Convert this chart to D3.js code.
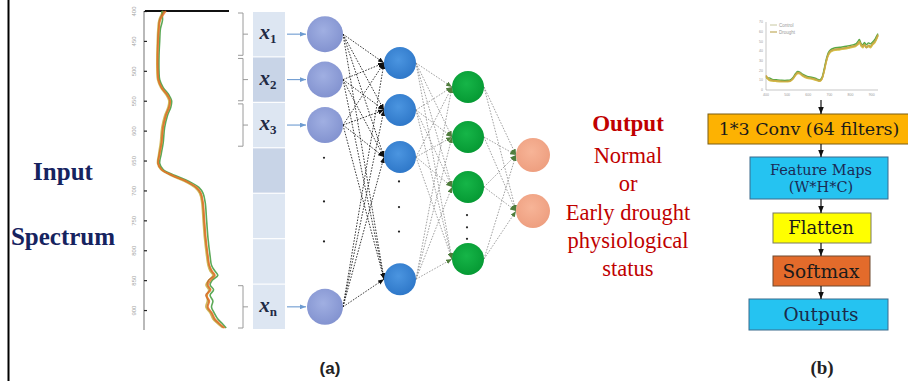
<!DOCTYPE html>
<html>
<head>
<meta charset="utf-8">
<script src="https://cdn.jsdelivr.net/npm/d3@7"></script>
<style>
  html, body { margin: 0; padding: 0; background: #fff; }
  svg { display: block; }
</style>
</head>
<body>
<svg id="fig" width="908" height="381"></svg>
<script>
// ---- Reflectance spectra: wavelength (nm) and reflectance (fraction) ----
const wavelengths = [400, 415, 430, 450, 475, 500, 515, 528, 540, 550, 560, 575, 595, 620, 640, 655, 665, 675, 685, 695,
                     705, 720, 750, 780, 810, 825, 835, 842, 850, 858, 866, 875, 885, 895, 905, 915, 922, 930];
const spectrumOrange = [0.15, 0.11, 0.10, 0.095, 0.09, 0.09, 0.095, 0.12, 0.16, 0.18, 0.175, 0.15, 0.13, 0.12, 0.105, 0.095, 0.12, 0.20, 0.30, 0.37,
                        0.40, 0.415, 0.425, 0.435, 0.45, 0.46, 0.48, 0.50, 0.47, 0.45, 0.47, 0.44, 0.46, 0.45, 0.48, 0.50, 0.53, 0.57];
const spectrumGreen  = [0.12, 0.125, 0.11, 0.105, 0.10, 0.10, 0.105, 0.13, 0.17, 0.19, 0.185, 0.16, 0.14, 0.13, 0.115, 0.105, 0.13, 0.215, 0.315, 0.385,
                        0.415, 0.43, 0.44, 0.45, 0.465, 0.475, 0.50, 0.52, 0.48, 0.465, 0.49, 0.465, 0.485, 0.475, 0.495, 0.52, 0.55, 0.58];
const spectrumOlive  = [0.13, 0.10, 0.092, 0.088, 0.085, 0.085, 0.09, 0.112, 0.15, 0.17, 0.165, 0.14, 0.12, 0.11, 0.097, 0.09, 0.112, 0.185, 0.285, 0.355,
                        0.39, 0.405, 0.415, 0.425, 0.44, 0.45, 0.465, 0.485, 0.455, 0.435, 0.455, 0.445, 0.445, 0.435, 0.465, 0.485, 0.515, 0.555];
const spectrumBrown  = [0.14, 0.105, 0.098, 0.092, 0.09, 0.092, 0.097, 0.118, 0.158, 0.178, 0.172, 0.148, 0.128, 0.118, 0.102, 0.094, 0.118, 0.195, 0.295, 0.365,
                        0.398, 0.412, 0.422, 0.432, 0.448, 0.458, 0.475, 0.495, 0.455, 0.445, 0.465, 0.435, 0.455, 0.445, 0.475, 0.495, 0.525, 0.565];
const wavelengthTicks = [400, 450, 500, 550, 600, 650, 700, 750, 800, 850, 900];
const miniTicksX = [400, 500, 600, 700, 800, 900];
const miniTicksY = [0, 0.1, 0.2, 0.3, 0.4, 0.5, 0.6, 0.7];
const legendLabels = ["Control", "Drought"];

// ---- Network ----
const layerNames = ["input", "hidden1", "hidden2", "output"];
const inputSubscripts = ["1", "2", "3", "n"];
const inputCellCount = 7;
const outputHeading = "Output";
const outputLines = ["Normal", "or", "Early drought", "physiological", "status"];
const sideLabels = ["Input", "Spectrum"];

// ---- CNN pipeline ----
const pipelineLabels = [["1*3 Conv (64 filters)"], ["Feature Maps", "(W*H*C)"], ["Flatten"], ["Softmax"], ["Outputs"]];
const panelLabels = ["(a)", "(b)"];

const svg = d3.select("#fig");
const defs = svg.append("defs");

function addMarker(id, color, w, h) {
  defs.append("marker")
    .attr("id", id).attr("viewBox", "0 0 10 8").attr("refX", 10).attr("refY", 4)
    .attr("markerWidth", w).attr("markerHeight", h)
    .attr("markerUnits", "userSpaceOnUse").attr("orient", "auto")
    .append("path").attr("d", "M0,0L10,4L0,8Z").attr("fill", color);
}
addMarker("arBlack", "#111", 6, 5);
addMarker("arGreen", "#4f7d3c", 6, 5);
addMarker("arBlue", "#6d9bd1", 6, 5);
addMarker("arFlow", "#111", 7, 6);

function radial(id, inner, outer) {
  const g = defs.append("radialGradient").attr("id", id).attr("cx", "45%").attr("cy", "40%").attr("r", "60%");
  g.append("stop").attr("offset", "0%").attr("stop-color", inner);
  g.append("stop").attr("offset", "100%").attr("stop-color", outer);
}
radial("gInput", "#a0afe2", "#8393d0");
radial("gH1", "#4b95e0", "#2f78c9");
radial("gH2", "#16b548", "#069a34");
radial("gOut", "#f7b497", "#ee9f80");

// Left frame line
svg.append("line").attr("x1", 8.5).attr("x2", 8.5).attr("y1", 0).attr("y2", 381)
  .attr("stroke", "#000").attr("stroke-width", 2);

// Side labels
svg.selectAll("text.side").data(sideLabels).join("text").attr("class", "side")
  .attr("x", 63).attr("y", (d, i) => [180, 245][i])
  .attr("text-anchor", "middle")
  .attr("font-family", "'Liberation Serif', serif").attr("font-weight", "bold")
  .attr("font-size", 25).attr("fill", "#16235f").text(d => d);

// ---- Rotated spectrum plot ----
const yWl = d3.scaleLinear().domain([400, 930]).range([11, 328]);
const xRef = d3.scaleLinear().domain([0, 0.6]).range([145, 229]);

const axisG = svg.append("g").attr("transform", "translate(144,0)")
  .call(d3.axisLeft(yWl).tickValues(wavelengthTicks).tickSizeInner(-3).tickSizeOuter(0).tickPadding(5));
axisG.select(".domain").attr("stroke", "#a8a8a8").attr("stroke-width", 1.6)
  .attr("d", `M0,${yWl(400)}V${yWl(930) + 2}`);
axisG.selectAll(".tick line").attr("stroke", "#222").attr("stroke-width", 1.2);
axisG.selectAll(".tick text")
  .attr("font-size", 6).attr("fill", "#a5a5a5").attr("font-family", "'Liberation Sans', sans-serif")
  .attr("text-anchor", "middle").attr("x", 0).attr("dy", 0)
  .attr("transform", "translate(-8,0) rotate(-90)");

svg.append("line").attr("x1", xRef(0)).attr("x2", xRef(0.6)).attr("y1", yWl(400)).attr("y2", yWl(400))
  .attr("stroke", "#111").attr("stroke-width", 2);

const spectra = [
  { values: spectrumOlive, color: "#c9ad3c" },
  { values: spectrumGreen, color: "#3f9a3a" },
  { values: spectrumBrown, color: "#b8682a" },
  { values: spectrumOrange, color: "#e6782a" }
];
const vLine = d3.line().x(d => xRef(d[1])).y(d => yWl(d[0])).curve(d3.curveCatmullRom);
svg.append("g").selectAll("path").data(spectra).join("path")
  .attr("d", s => vLine(wavelengths.map((w, i) => [w, s.values[i]])))
  .attr("fill", "none").attr("stroke", s => s.color).attr("stroke-width", 1.6).attr("opacity", 0.85);

// ---- Input cells ----
const cellBand = d3.scaleBand().domain(d3.range(inputCellCount)).range([12, 329]).paddingInner(0.025);
svg.append("g").selectAll("rect").data(d3.range(inputCellCount)).join("rect")
  .attr("x", 253).attr("width", 32)
  .attr("y", d => cellBand(d)).attr("height", cellBand.bandwidth())
  .attr("fill", d => (d === 1 || d === 3) ? "#c8d4e7" : "#dde6f2");

const inputSlots = [0, 1, 2, 6];
const slotCenter = s => cellBand(s) + cellBand.bandwidth() / 2;

// Brackets tying spectral segments to inputs
svg.append("g").selectAll("path").data(inputSlots).join("path")
  .attr("d", s => {
    const y0 = cellBand(s) + 1, y1 = cellBand(s) + cellBand.bandwidth() - 1, m = slotCenter(s);
    return `M238,${y0}H243V${y1}H238M243,${m}H248`;
  })
  .attr("fill", "none").attr("stroke", "#9a9a9a").attr("stroke-width", 1);

// x labels
const xl = svg.append("g").selectAll("text").data(inputSlots).join("text")
  .attr("x", 268).attr("y", s => slotCenter(s) + 5)
  .attr("text-anchor", "middle")
  .attr("font-family", "'Liberation Serif', serif").attr("fill", "#1f2a44");
xl.append("tspan").attr("font-style", "italic").attr("font-weight", "bold").attr("font-size", 21).text("x");
xl.append("tspan").attr("font-weight", "bold").attr("font-size", 13).attr("dy", 4)
  .text((s, i) => inputSubscripts[i]);

// ---- Network nodes ----
const layerX = d3.scaleOrdinal().domain(layerNames).range([325, 400, 468, 533]);
const layerR = d3.scaleOrdinal().domain(layerNames).range([18, 16, 16, 17]);
const h1Y = d3.scaleLinear().domain([0, 1]).range([63, 110]);
const h2Y = d3.scaleLinear().domain([0, 1]).range([87, 137]);
const outY = d3.scaleLinear().domain([0, 1]).range([155, 211]);

const layers = [
  { name: "input", ys: inputSlots.map(slotCenter), fill: "url(#gInput)" },
  { name: "hidden1", ys: [0, 1, 2, 4.6].map(h1Y), fill: "url(#gH1)" },
  { name: "hidden2", ys: [0, 1, 2, 3.44].map(h2Y), fill: "url(#gH2)" },
  { name: "output", ys: [0, 1].map(outY), fill: "url(#gOut)" }
];

// Input arrows
svg.append("g").selectAll("line").data(layers[0].ys).join("line")
  .attr("x1", 287).attr("x2", layerX("input") - layerR("input") - 1)
  .attr("y1", d => d).attr("y2", d => d)
  .attr("stroke", "#6d9bd1").attr("stroke-width", 1.1).attr("marker-end", "url(#arBlue)");

// Connections
const edgeStyles = [
  { stroke: "#222", width: 0.9, marker: "url(#arBlack)" },
  { stroke: "#8a8a8a", width: 0.8, marker: "url(#arGreen)" },
  { stroke: "#8a8a8a", width: 0.8, marker: "url(#arGreen)" }
];
const edgeG = svg.append("g");
for (let l = 0; l < layers.length - 1; l++) {
  const a = layers[l], b = layers[l + 1], st = edgeStyles[l];
  const edges = [];
  a.ys.forEach(ya => b.ys.forEach(yb => edges.push([ya, yb])));
  edgeG.append("g").selectAll("line").data(edges).join("line")
    .attr("x1", layerX(a.name) + layerR(a.name)).attr("y1", d => d[0])
    .attr("x2", layerX(b.name) - layerR(b.name)).attr("y2", d => d[1])
    .attr("stroke", st.stroke).attr("stroke-width", st.width)
    .attr("stroke-dasharray", "1.6,1.4").attr("marker-end", st.marker);
}

svg.append("g").selectAll("g").data(layers).join("g")
  .each(function (L) {
    d3.select(this).selectAll("circle").data(L.ys).join("circle")
      .attr("cx", layerX(L.name)).attr("cy", d => d).attr("r", layerR(L.name))
      .attr("fill", L.fill);
  });

// Ellipsis dots inside each layer
const dotFractions = [
  { name: "input", from: 2, to: 3, f: [0.18, 0.42, 0.64] },
  { name: "hidden1", from: 2, to: 3, f: [0.2, 0.41, 0.61] },
  { name: "hidden2", from: 2, to: 3, f: [0.39, 0.56, 0.72] }
];
dotFractions.forEach(D => {
  const L = layers.find(x => x.name === D.name);
  const y = d3.scaleLinear().domain([0, 1]).range([L.ys[D.from], L.ys[D.to]]);
  svg.append("g").selectAll("circle").data(D.f).join("circle")
    .attr("cx", layerX(D.name) - 1).attr("cy", d => y(d)).attr("r", 1.1).attr("fill", "#222");
});

// Output text
const outText = svg.append("g").attr("font-family", "'Liberation Serif', serif").attr("fill", "#c00000")
  .attr("text-anchor", "middle");
outText.append("text").attr("x", 628).attr("y", 131).attr("font-weight", "bold").attr("font-size", 23).text(outputHeading);
const outLineY = d3.scaleLinear().domain([0, outputLines.length - 1]).range([163, 276]);
outText.selectAll("text.ol").data(outputLines).join("text").attr("class", "ol")
  .attr("x", 628).attr("y", (d, i) => outLineY(i)).attr("font-size", 22.5).text(d => d);

// ---- Mini spectrum chart ----
const mx = d3.scaleLinear().domain([400, 930]).range([766, 878]);
const my = d3.scaleLinear().domain([0, 0.7]).range([90, 22]);
const mini = svg.append("g");
mini.append("path").attr("d", `M${mx(400)},${my(0.7)}V${my(0)}H${mx(930)}`)
  .attr("fill", "none").attr("stroke", "#b0b0b0").attr("stroke-width", 0.7);
mini.selectAll("text.mtx").data(miniTicksX).join("text").attr("class", "mtx")
  .attr("x", d => mx(d)).attr("y", 96).attr("text-anchor", "middle")
  .attr("font-size", 3.5).attr("fill", "#999").attr("font-family", "'Liberation Sans', sans-serif").text(d => d);
mini.selectAll("text.mty").data(miniTicksY).join("text").attr("class", "mty")
  .attr("x", mx(400) - 3).attr("y", d => my(d) + 1.2).attr("text-anchor", "end")
  .attr("font-size", 3.5).attr("fill", "#999").attr("font-family", "'Liberation Sans', sans-serif").text(d => d * 100);
const hLine = d3.line().x(d => mx(d[0])).y(d => my(d[1])).curve(d3.curveCatmullRom);
const miniSpectra = [
  { values: spectrumBrown, color: "#a8843c" },
  { values: spectrumGreen, color: "#5aa845" },
  { values: spectrumOlive, color: "#d6c24a" },
  { values: spectrumOrange, color: "#c9a846" }
];
mini.selectAll("path.ms").data(miniSpectra).join("path").attr("class", "ms")
  .attr("d", s => hLine(wavelengths.map((w, i) => [w, s.values[i]])))
  .attr("fill", "none").attr("stroke", s => s.color).attr("stroke-width", 1.4);
const leg = mini.selectAll("g.leg").data(legendLabels).join("g").attr("class", "leg")
  .attr("transform", (d, i) => `translate(770,${25 + i * 7})`);
leg.append("line").attr("x1", 0).attr("x2", 7).attr("stroke", (d, i) => i ? "#b59b3c" : "#c8c8a0").attr("stroke-width", 1);
leg.append("text").attr("x", 9).attr("y", 1.5).attr("font-size", 4.5).attr("fill", "#999")
  .attr("font-family", "'Liberation Sans', sans-serif").text(d => d);

// ---- CNN pipeline boxes ----
const boxes = [
  { x: 708, y: 114, w: 206, h: 30, fill: "#fdb202", stroke: "#7a5c12", size: 17.5, color: "#1a1a1a" },
  { x: 750, y: 157, w: 138, h: 42, fill: "#25c3f1", stroke: "#3b6b8c", size: 14.5, color: "#1b2b55" },
  { x: 773, y: 213, w: 98, h: 30, fill: "#ffff00", stroke: "#7a7a60", size: 18, color: "#1a1a1a" },
  { x: 773, y: 256, w: 97, h: 30, fill: "#e36b2b", stroke: "#6f4a30", size: 18.5, color: "#1a1a1a" },
  { x: 749, y: 299, w: 139, h: 31, fill: "#25c3f1", stroke: "#3b6b8c", size: 18.5, color: "#1b2b4a" }
];
const bg = svg.append("g");
bg.selectAll("rect").data(boxes).join("rect")
  .attr("x", d => d.x).attr("y", d => d.y).attr("width", d => d.w).attr("height", d => d.h)
  .attr("fill", d => d.fill).attr("stroke", d => d.stroke).attr("stroke-width", 1);
bg.selectAll("text").data(boxes).join("text")
  .attr("text-anchor", "middle").attr("font-family", "'DejaVu Serif', serif")
  .attr("font-size", d => d.size).attr("fill", d => d.color)
  .each(function (d, i) {
    const lines = pipelineLabels[i];
    const lh = d.size * 1.15;
    const y0 = d.y + d.h / 2 - (lines.length - 1) * lh / 2 + d.size * 0.36;
    const cx = i === 0 ? d.x + d.w / 2 - 2 : 821;
    d3.select(this).selectAll("tspan").data(lines).join("tspan")
      .attr("x", cx).attr("y", (t, k) => y0 + k * lh).text(t => t);
  });

// Flow arrows
const flowStarts = [100].concat(boxes.slice(0, -1).map(b => b.y + b.h));
svg.append("g").selectAll("line").data(flowStarts).join("line")
  .attr("x1", 821).attr("x2", 821)
  .attr("y1", d => d).attr("y2", (d, i) => boxes[i].y)
  .attr("stroke", "#111").attr("stroke-width", 1.2).attr("marker-end", "url(#arFlow)");

// Panel captions
svg.append("text").attr("x", 330).attr("y", 374).attr("text-anchor", "middle")
  .attr("font-family", "'Liberation Sans', sans-serif").attr("font-weight", "bold")
  .attr("font-size", 17).attr("fill", "#222").text(panelLabels[0]);
svg.append("text").attr("x", 822).attr("y", 374).attr("text-anchor", "middle")
  .attr("font-family", "'Liberation Serif', serif").attr("font-weight", "bold")
  .attr("font-size", 19).attr("fill", "#222").text(panelLabels[1]);
</script>
</body>
</html>
